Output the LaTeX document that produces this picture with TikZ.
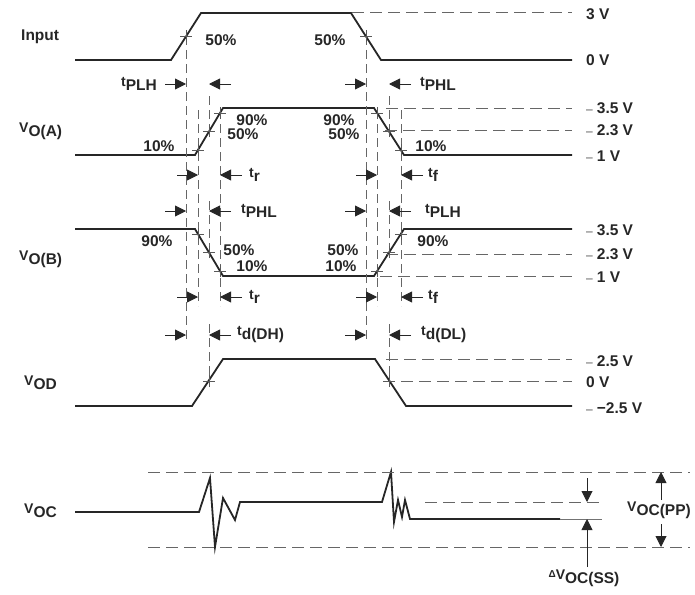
\documentclass[tikz,border=0pt]{standalone}
\usepackage{fontspec}
\setmainfont{Liberation Sans}
\usetikzlibrary{arrows.meta}

\newcommand\sig[2]{{\fontsize{14}{16}\selectfont #1}\raisebox{-4pt}{#2}}
\newcommand\approxv{{\mdseries\fontsize{12}{12}\selectfont\color{black!70}–}\hspace{4pt}}

\tikzset{
  wave/.style={line width=1.8pt, black!85},
  guide/.style={line width=1pt, black!60, dash pattern=on 12pt off 6pt},
  vguide/.style={line width=1pt, black!60, dash pattern=on 9pt off 5pt},
  dimarrow/.style={line width=0.9pt, black!85, -{Triangle[length=11pt,width=11pt]}},
  crs/.pic={\draw[line width=0.8pt, black!65] (-6pt,0) -- (6pt,0) (0,-6pt) -- (0,6pt);},
  lbl/.style={inner sep=0pt, font=\fontsize{15.5}{17}\selectfont\bfseries, text=black!85},
}

\begin{document}
\begin{tikzpicture}[x=1pt, y=-1pt]
\useasboundingbox (0,0) rectangle (695,594);

% Waveforms
\draw[wave] (75,60) -- (171,60) -- (201,13) -- (351,13) -- (381,60) -- (572,60);
\draw[wave] (75,155) -- (195,155) -- (223,108) -- (374,108) -- (404,155) -- (572,155);
\draw[wave] (75,229) -- (195,229) -- (223,276) -- (374,276) -- (404,229) -- (572,229);
\draw[wave] (75,406) -- (192,406) -- (223,359) -- (375,359) -- (406,406) -- (572,406);
\draw[wave] (75,512) -- (199,512) -- (210,478) -- (215,547) -- (223,498) -- (235,520)
  -- (240,502) -- (382,502) -- (391,472) -- (394,522) -- (398,500) -- (402,517)
  -- (405,500) -- (410,519) -- (560,519);

% Level guides
\draw[guide] (352,13) -- (572,13);
\draw[guide] (386,108) -- (572,108);
\draw[guide] (385,130) -- (572,130);
\draw[guide] (386,254) -- (572,254);
\draw[guide] (380,276) -- (572,276);
\draw[guide] (386,359) -- (572,359);
\draw[guide] (383,381) -- (572,381);
\draw[guide] (148,472) -- (690,472);
\draw[guide] (148,547) -- (690,547);
\draw[guide] (425,502) -- (600,502);
\draw[line width=0.7pt, black!55] (560,519) -- (602,519);

% Timing guides
\draw[vguide] (186,36) -- (186,342);
\draw[vguide] (366,36) -- (366,342);
\foreach \x in {198,220,377,401}
  \draw[vguide] (\x,110) -- (\x,306);
\foreach \x in {209,389} {
  \draw[vguide] (\x,96) -- (\x,131);
  \draw[vguide] (\x,201) -- (\x,252);
  \draw[vguide] (\x,324) -- (\x,381);
}

% Crossing marks
\foreach \x/\y in {186/36.5, 366/36.5, 198/150, 209/131, 220/113, 377/113, 389/131, 401/150,
  198/234, 209/252, 220/271, 377/271, 389/252, 401/234, 209/381, 389/381}
  \pic at (\x,\y) {crs};

% Dimension arrows
\foreach \y in {84,211,335} {
  \draw[dimarrow] (165,\y) -- (186,\y);
  \draw[dimarrow] (231,\y) -- (209,\y);
  \draw[dimarrow] (345,\y) -- (366,\y);
  \draw[dimarrow] (411,\y) -- (389,\y);
}
\foreach \y in {175,297} {
  \draw[dimarrow] (177,\y) -- (198,\y);
  \draw[dimarrow] (242,\y) -- (220,\y);
  \draw[dimarrow] (356,\y) -- (377,\y);
  \draw[dimarrow] (423,\y) -- (401,\y);
}
\draw[dimarrow] (587,478) -- (587,502);
\draw[dimarrow] (587,567) -- (587,519);
\draw[dimarrow] (661,500) -- (661,472);
\draw[dimarrow] (661,524) -- (661,547);

% Signal names
\node[lbl, anchor=west] (input) at (21,37) {Input};
\node[lbl, anchor=west] (voa) at (19,131) {\sig{V}{O(A)}};
\node[lbl, anchor=west] (vob) at (19,259) {\sig{V}{O(B)}};
\node[lbl, anchor=west] (vod) at (24,383) {\sig{V}{OD}};
\node[lbl, anchor=west] (voc) at (24,511) {\sig{V}{OC}};

% Timing labels
\node[lbl, anchor=east] (tplha) at (157,84) {\sig{t}{PLH}};
\node[lbl, anchor=west] (tphla) at (420,84) {\sig{t}{PHL}};
\node[lbl, anchor=west] (tra) at (249,175) {\sig{t}{r}};
\node[lbl, anchor=west] (tfa) at (428,175) {\sig{t}{f}};
\node[lbl, anchor=west] (tphlb) at (241,211) {\sig{t}{PHL}};
\node[lbl, anchor=west] (tplhb) at (425,211) {\sig{t}{PLH}};
\node[lbl, anchor=west] (trb) at (249,297) {\sig{t}{r}};
\node[lbl, anchor=west] (tfb) at (428,297) {\sig{t}{f}};
\node[lbl, anchor=west] (tddh) at (237,335) {\sig{t}{d(DH)}};
\node[lbl, anchor=west] (tddl) at (421,335) {\sig{t}{d(DL)}};
\node[lbl] (dvoc) at (584,578) {{\fontsize{10}{10}\selectfont\raisebox{2pt}{Δ}}\sig{V}{OC(SS)}};
\node[lbl, anchor=west] (vocpp) at (627,510) {\sig{V}{OC(PP)}};

% Percent labels
\node[lbl] at (221,40) {50\%};
\node[lbl] at (330,40) {50\%};
\node[lbl] at (159,146) {10\%};
\node[lbl] at (252,120) {90\%};
\node[lbl] at (243,134) {50\%};
\node[lbl] at (339,120) {90\%};
\node[lbl] at (344,134) {50\%};
\node[lbl] at (431,146) {10\%};
\node[lbl] at (157,241) {90\%};
\node[lbl] at (239,250) {50\%};
\node[lbl] at (252,266) {10\%};
\node[lbl] at (343,250) {50\%};
\node[lbl] at (341,266) {10\%};
\node[lbl] at (433,241) {90\%};

% Level labels
\node[lbl, anchor=west] at (586,14) {3 V};
\node[lbl, anchor=west] at (586,60) {0 V};
\node[lbl, anchor=west] at (586,108) {\approxv 3.5 V};
\node[lbl, anchor=west] at (586,130) {\approxv 2.3 V};
\node[lbl, anchor=west] at (586,156) {\approxv 1 V};
\node[lbl, anchor=west] at (586,230) {\approxv 3.5 V};
\node[lbl, anchor=west] at (586,254) {\approxv 2.3 V};
\node[lbl, anchor=west] at (586,277) {\approxv 1 V};
\node[lbl, anchor=west] at (586,361) {\approxv 2.5 V};
\node[lbl, anchor=west] at (586,382) {0 V};
\node[lbl, anchor=west] at (586,408) {\approxv −2.5 V};
\end{tikzpicture}
\end{document}
